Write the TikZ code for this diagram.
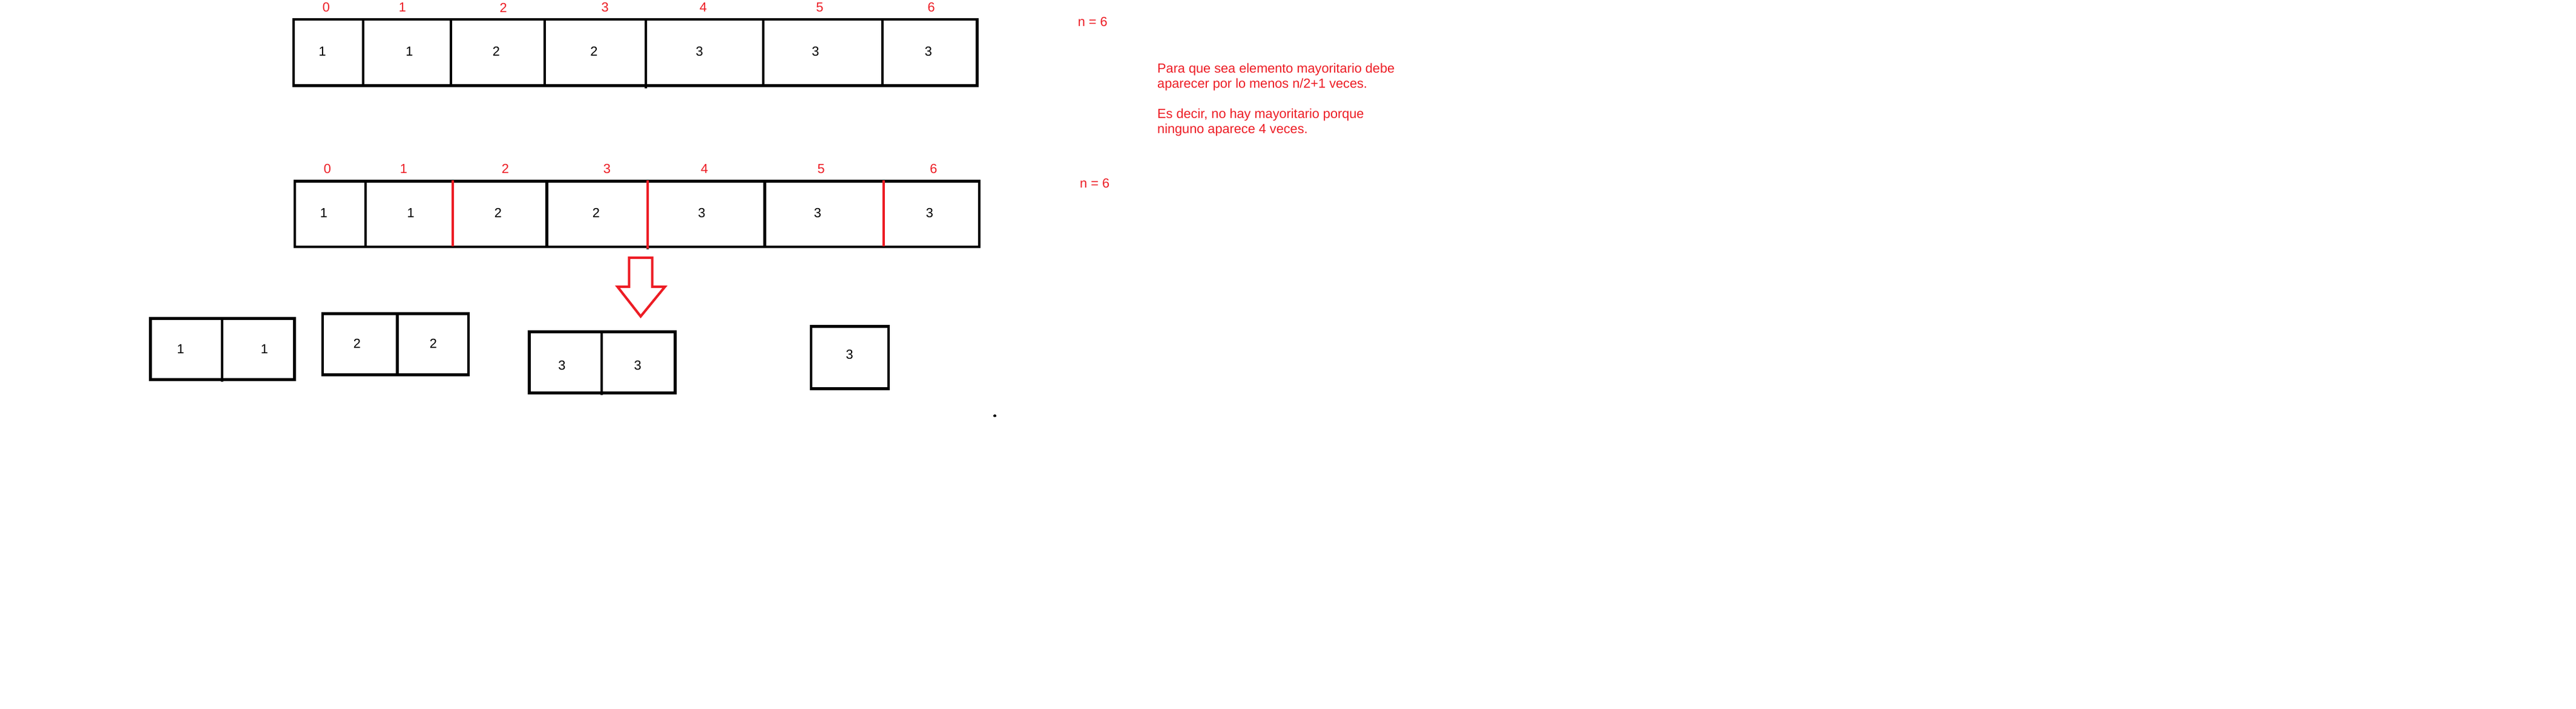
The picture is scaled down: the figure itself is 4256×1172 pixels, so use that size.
\documentclass[tikz,border=0pt]{standalone}
\usepackage{fontspec}
\setmainfont{Liberation Sans}
\definecolor{pred}{RGB}{237,28,36}
\begin{document}
\begin{tikzpicture}[x=1pt,y=-1pt,
  box/.style={draw=black,line width=4.5pt,line join=miter},
  divline/.style={black,line width=4.2pt},
  sepline/.style={pred,line width=4pt},
  val/.style={font=\fontsize{21.7pt}{25pt}\selectfont,inner sep=0pt,text=black},
  idx/.style={font=\fontsize{21.7pt}{25pt}\selectfont,inner sep=0pt,text=pred},
  note/.style={font=\fontsize{21.7pt}{25pt}\selectfont,inner sep=0pt,text=pred,anchor=base west},
  bigarrow/.style={draw=pred,line width=4pt,line join=miter}]
\useasboundingbox[fill=white] (0,0) rectangle (4256,1172);

% ---------- top array ----------
\draw[box] (485,32.2) rectangle (1614.3,141.5);
\foreach \x in {600,745,900,1261,1457.6} \draw[divline] (\x,32.2) -- (\x,141.5);
\draw[divline] (1067,32.2) -- (1067,146);
\foreach \i/\x in {0/538.8,1/665,2/831.6,3/999.7,4/1161.8,5/1354.4,6/1538.6}
  \node[idx] (ti\i) at (\x,12.5) {\i};
\foreach \i/\x/\v in {0/532.7/1,1/676.4/1,2/820/2,3/981.4/2,4/1155.7/3,5/1347.5/3,6/1534/3}
  \node[val] (tv\i) at (\x,85) {\v};
\node[note] (n1) at (1780.7,43.3) {n = 6};

% ---------- second array ----------
\draw[box] (487.2,299.7) rectangle (1618.2,408.2);
\foreach \x in {603.8,903.4,1263.5} \draw[divline] (\x,299.7) -- (\x,408.2);
\draw[sepline] (747.5,298) -- (747.5,407.3);
\draw[divline] (1070,404) -- (1070,412);
\draw[sepline] (1070,298) -- (1070,411);
\draw[sepline] (1460,298) -- (1460,407.3);
\foreach \i/\x in {0/541,1/667,2/835,3/1003,4/1164,5/1356.7,6/1542.5}
  \node[idx] (bi\i) at (\x,279) {\i};
\foreach \i/\x/\v in {0/535/1,1/678.7/1,2/823/2,3/985/2,4/1159.5/3,5/1351/3,6/1536/3}
  \node[val] (bv\i) at (\x,351.7) {\v};
\node[note] (n2) at (1784,310) {n = 6};

% ---------- note ----------
\node[note] (p1) at (1912,120.5) {Para que sea elemento mayoritario debe};
\node[note] (p2) at (1912,145.5) {aparecer por lo menos n/2+1 veces.};
\node[note] (p3) at (1912,195.5) {Es decir, no hay mayoritario porque};
\node[note] (p4) at (1912,220.5) {ninguno aparece 4 veces.};

% ---------- arrow ----------
\draw[bigarrow] (1039.4,426) -- (1077.6,426) -- (1077.6,474) -- (1098.6,474)
  -- (1058.5,523) -- (1020.2,474) -- (1039.4,474) -- cycle;

% ---------- sub-arrays ----------
\draw[box] (248.3,526.5) rectangle (486.3,627.5);
\draw[divline] (366.8,526.5) -- (366.8,630.5);
\node[val] (a1) at (298.5,577.5) {1};
\node[val] (a2) at (437,577.5) {1};

\draw[box] (533.2,518.5) rectangle (774,619.5);
\draw[divline] (656.5,518.5) -- (656.5,622);
\node[val] (b1) at (590,568.3) {2};
\node[val] (b2) at (716,568.3) {2};

\draw[box] (874.5,548.3) rectangle (1115.4,649.3);
\draw[divline] (994,548.3) -- (994,653);
\node[val] (c1) at (928.5,604) {3};
\node[val] (c2) at (1053.7,604) {3};

\draw[box] (1340,539.3) rectangle (1468,642.3);
\node[val] (d1) at (1403.6,585.8) {3};

% stray dot
\fill[black] (1643.6,687.3) ellipse (2.6pt and 2.2pt);
\end{tikzpicture}
\end{document}
